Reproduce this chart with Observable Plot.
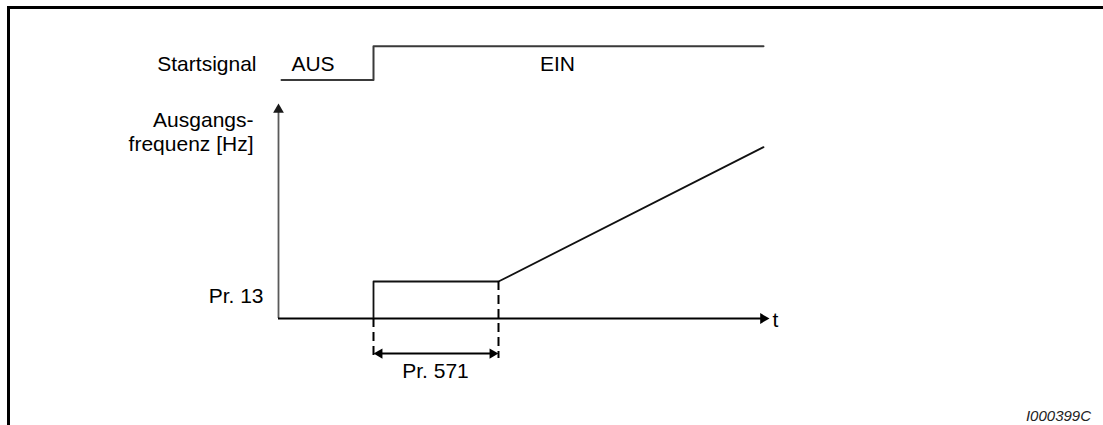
<!DOCTYPE html>
<html>
<head>
<meta charset="utf-8">
<script src="https://cdn.jsdelivr.net/npm/d3@7"></script>
<script src="https://cdn.jsdelivr.net/npm/@observablehq/plot@0.6"></script>
<style>
  html, body { margin: 0; padding: 0; background: #fff; }
  #wrap { position: relative; width: 1103px; height: 425px; overflow: hidden; font-family: "Liberation Sans", Arial, sans-serif; }
  #chart { position: absolute; left: 0; top: 0; }
  #frame { position: absolute; left: 7px; top: 6px; width: 1100px; height: 430px; border-top: 3px solid #000; border-left: 3px solid #000; pointer-events: none; }
  #caption { position: absolute; right: 12px; top: 407px; font-size: 15px; line-height: 18px; font-style: italic; color: #222; }
</style>
</head>
<body>
<div id="wrap">
  <div id="chart"></div>
  <div id="frame"></div>
  <div id="caption">I000399C</div>
</div>
<script>
// --- data (time units on x, frequency units on y) ---
const signalTimes  = [0.6, 19, 19, 97];
const signalLevels = [110.9, 110.9, 126.6, 126.6];   // AUS level, EIN level
const freqTimes    = [19, 19, 44, 97];
const freqValues   = [0, 17.2, 17.2, 79.7];
const pr13Value    = 17.2;
const pr571Start   = 19;
const pr571End     = 44;
const axisTEnd     = 98.2;
const axisFEnd     = 100;
const dimLevel     = -16.3;
const dashBottom   = -18.6;

const labelTexts   = ["Startsignal", "AUS", "EIN", "Ausgangs-", "frequenz [Hz]", "Pr. 13", "t", "Pr. 571"];
const labelX       = [-4.4, 6.9, 55.8, -5, -5, -3, 98.8, 31.4];
const labelY       = [118.4, 118.4, 118.4, 92.3, 81.2, 10.2, -0.9, -24.6];
const labelAnchor  = ["end", "middle", "middle", "end", "end", "end", "start", "middle"];

// --- derived tables ---
const signalRows = signalTimes.map((t, i) => ({t, v: signalLevels[i]}));
const freqRows = freqTimes.map((t, i) => ({t, v: freqValues[i]}));
const labels = labelTexts.map((text, i) => ({text, x: labelX[i], y: labelY[i], anchor: labelAnchor[i]}));
const dashRows = [
  {t: pr571Start, top: 0, bottom: dashBottom},
  {t: pr571End, top: pr13Value, bottom: dashBottom}
];
const pxX = 5, pxY = 2.15; // units per pixel helpers for arrowhead offsets

const fontFamily = '"Liberation Sans", Arial, sans-serif';

const chart = Plot.plot({
  width: 1103,
  height: 400,
  margin: 0,
  x: {type: "linear", domain: [0, 100], range: [278, 778], axis: null},
  y: {type: "linear", domain: [0, 100], range: [318, 103], axis: null},
  style: {background: "transparent", fontFamily, fontSize: "21px", color: "#000"},
  marks: [
    // start signal
    Plot.line(signalRows, {x: "t", y: "v", stroke: "#3a3a3a", strokeWidth: 2, curve: "linear"}),
    // y axis with arrow
    Plot.ruleX([0], {y1: 0, y2: axisFEnd - 6.2 / pxY * 1, stroke: "#5a5a5a", strokeWidth: 1.8}),
    Plot.dot([0], {x: 0, y: axisFEnd - 6.2 / pxY, r: 4, symbol: "triangle", fill: "#1a1a1a", stroke: "none"}),
    // t axis with arrow
    Plot.ruleY([0], {x1: 0, x2: axisTEnd - 6.2 / pxX, stroke: "#000", strokeWidth: 2.2}),
    Plot.dot([0], {x: axisTEnd - 6.2 / pxX, y: 0, r: 4, symbol: "triangle", rotate: 90, fill: "#000", stroke: "none"}),
    // output frequency
    Plot.line(freqRows, {x: "t", y: "v", stroke: "#111", strokeWidth: 1.8}),
    // dashed markers
    Plot.ruleX(dashRows, {x: "t", y1: "top", y2: "bottom", stroke: "#000", strokeWidth: 2, strokeDasharray: "9,5"}),
    // dimension arrow Pr. 571
    Plot.ruleY([dimLevel], {x1: pr571Start + 6 / pxX, x2: pr571End - 6 / pxX, stroke: "#000", strokeWidth: 2}),
    Plot.dot([pr571Start], {x: pr571Start + 6 / pxX, y: dimLevel, r: 3.8, symbol: "triangle", rotate: -90, fill: "#000", stroke: "none"}),
    Plot.dot([pr571End], {x: pr571End - 6 / pxX, y: dimLevel, r: 3.8, symbol: "triangle", rotate: 90, fill: "#000", stroke: "none"}),
    // labels
    Plot.text(labels.filter(d => d.anchor === "end"), {x: "x", y: "y", text: "text", textAnchor: "end", fill: "#000", fontSize: 21}),
    Plot.text(labels.filter(d => d.anchor === "middle"), {x: "x", y: "y", text: "text", textAnchor: "middle", fill: "#000", fontSize: 21}),
    Plot.text(labels.filter(d => d.anchor === "start"), {x: "x", y: "y", text: "text", textAnchor: "start", fill: "#000", fontSize: 21})
  ]
});
document.getElementById("chart").appendChild(chart);
</script>
</body>
</html>
